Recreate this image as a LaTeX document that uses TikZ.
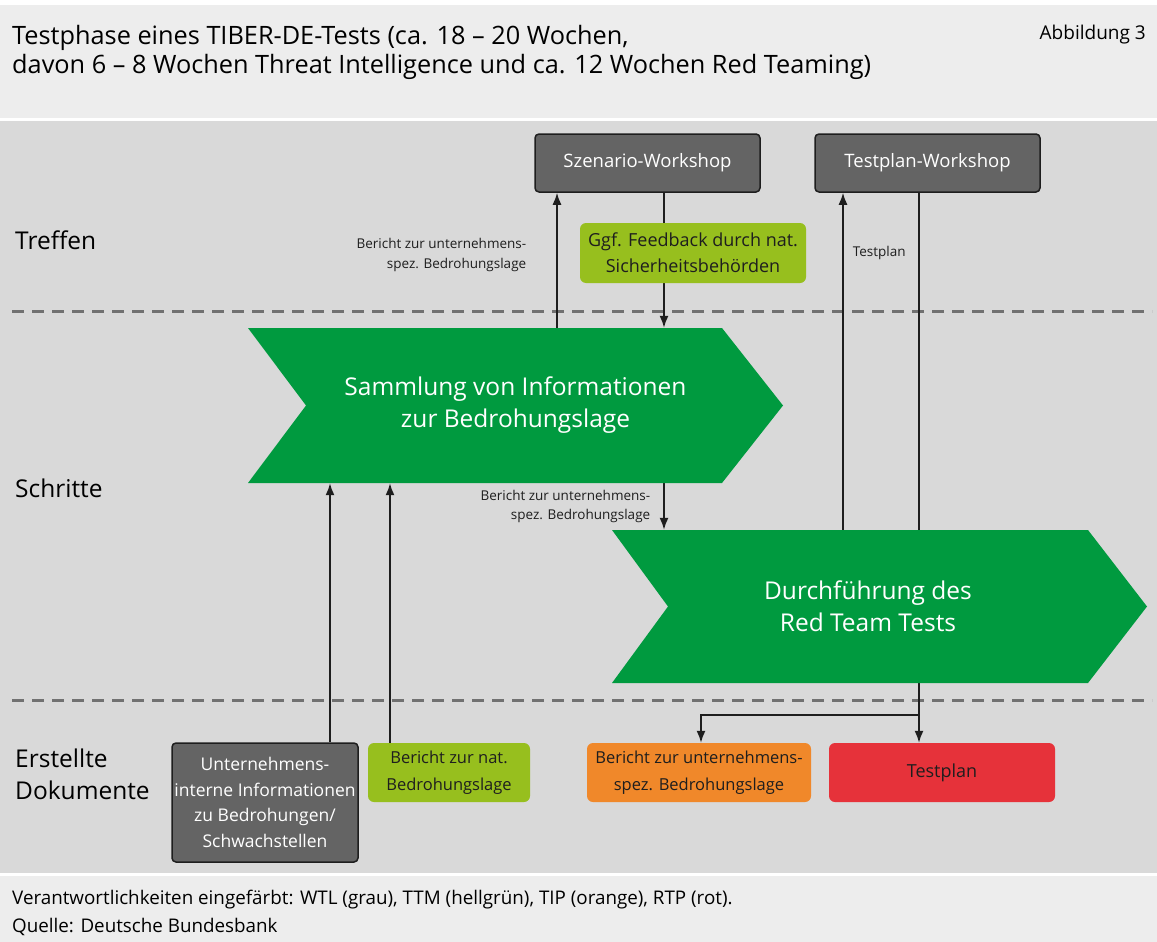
\documentclass[tikz,border=0pt]{standalone}
\usepackage{fontspec}
\setmainfont{Open Sans}
\usetikzlibrary{arrows.meta, positioning}

\definecolor{bandlight}{HTML}{EDEDED}
\definecolor{bandgray}{HTML}{D9D9D9}
\definecolor{dashgray}{HTML}{717171}
\definecolor{wtlgray}{HTML}{646464}
\definecolor{stepgreen}{HTML}{009A3F}
\definecolor{ttmgreen}{HTML}{97BF1E}
\definecolor{tiporange}{HTML}{F0882A}
\definecolor{rtpred}{HTML}{E6323A}
\definecolor{inkdark}{HTML}{1E1E1E}

\pgfdeclarelayer{background}
\pgfdeclarelayer{lines}
\pgfsetlayers{background,lines,main}

\tikzset{
  meeting/.style={draw=inkdark, line width=1.5pt, fill=wtlgray, rounded corners=4pt, text=white,
    font=\fontsize{18.5}{25}\selectfont, minimum width=225pt, minimum height=58pt, inner sep=0pt, align=center},
  doc/.style={rounded corners=6pt, text=inkdark, font=\fontsize{16.5}{27}\selectfont,
    minimum height=59pt, inner sep=0pt, align=center},
  steptext/.style={text=white, font=\fontsize{24.5}{32}\selectfont, align=center, inner sep=0pt},
  rowlabel/.style={anchor=west, font=\fontsize{24.5}{32}\selectfont, align=left, inner sep=0pt},
  note/.style={text=inkdark, font=\fontsize{13.5}{19.5}\selectfont, align=right, inner sep=0pt},
  plain/.style={inner sep=0pt, font=\fontsize{18.8}{27}\selectfont},
  arr/.style={draw=inkdark, line width=1.6pt, -{Latex[length=12pt,width=9pt]}},
  conn/.style={draw=inkdark, line width=1.6pt},
  sep/.style={draw=dashgray, line width=3pt, dash pattern=on 12pt off 8pt},
}

\begin{document}
\begin{tikzpicture}[x=1pt, y=-1pt]
\useasboundingbox (0,0) rectangle (1157,942);

% Bands
\begin{pgfonlayer}{background}
\fill[bandlight] (0,5) rectangle (1157,118);
\fill[bandgray] (0,121) rectangle (1157,873);
\fill[bandlight] (0,876) rectangle (1157,942);
\draw[sep] (12,311) -- (1152,311);
\draw[sep] (12,700) -- (1152,700);
\end{pgfonlayer}

% Header
\node[anchor=west, align=left, inner sep=0pt, font=\fontsize{25.3}{29}\selectfont] (title) at (12,52)
  {Testphase eines TIBER-DE-Tests (ca. 18 – 20 Wochen,\\davon 6 – 8 Wochen Threat Intelligence und ca. 12 Wochen Red Teaming)};
\node[plain, anchor=base east, font=\fontsize{19}{22}\selectfont] (fig) at (1146,40) {Abbildung 3};

% Row labels
\node[rowlabel] (treffen) at (15,240) {Treffen};
\node[rowlabel] (schritte) at (15,488) {Schritte};
\node[rowlabel] (dokumente) at (15,774) {Erstellte\\Dokumente};

% Meetings
\node[meeting] (sz) at (647.5,163) {Szenario-Workshop};
\node[meeting] (tw) at (927.5,163) {Testplan-Workshop};
\node[doc, fill=ttmgreen, minimum width=226pt, minimum height=60pt, font=\fontsize{18}{26}\selectfont] (fb) at (693,253)
  {Ggf. Feedback durch nat.\\Sicherheitsbehörden};

% Steps
\fill[stepgreen] (248,328) -- (722,328) -- (783,405.5) -- (722,483) -- (248,483) -- (306,405.5) -- cycle;
\node[steptext, minimum width=535pt, minimum height=155pt] (s1) at (515.5,405.5)
  {Sammlung von Informationen\\zur Bedrohungslage};
\fill[stepgreen] (612,530) -- (1088,530) -- (1147,606.5) -- (1088,683) -- (612,683) -- (668,606.5) -- cycle;
\node[steptext, minimum width=535pt, minimum height=153pt] (s2) at (868,606.5)
  {Durchführung des\\Red Team Tests};

% Documents
\node[meeting, minimum width=186pt, minimum height=119pt, font=\fontsize{17.5}{25.7}\selectfont] (ui) at (265,802.5)
  {Unternehmens-\\interne Informationen\\zu Bedrohungen/\\Schwachstellen};
\node[doc, fill=ttmgreen, minimum width=162pt] (nb) at (449,772.5) {Bericht zur nat.\\Bedrohungslage};
\node[doc, fill=tiporange, minimum width=224pt] (bt) at (699,772.5) {Bericht zur unternehmens-\\spez. Bedrohungslage};
\node[doc, fill=rtpred, minimum width=226pt, font=\fontsize{18}{26}\selectfont] (tp) at (942,772.5) {Testplan};

% Connectors
\begin{pgfonlayer}{lines}
\draw[arr] (557,0 |- s1.north) -- (557,0 |- sz.south)
  node[note, pos=0.54, left=30pt] {Bericht zur unternehmens-\\spez. Bedrohungslage};
\draw[arr] (664,0 |- sz.south) -- (664,0 |- s1.north);
\draw[arr] (664,0 |- s1.south) -- (664,0 |- s2.north)
  node[note, midway, left=13pt] {Bericht zur unternehmens-\\spez. Bedrohungslage};
\draw[arr] (843,0 |- s2.north) -- (843,0 |- tw.south)
  node[note, pos=0.82, right=9pt] {Testplan};
\draw[conn] (919,0 |- tw.south) -- (919,0 |- s2.north);
\coordinate (split) at (919,715);
\draw[arr] (919,0 |- s2.south) -- (919,0 |- tp.north);
\draw[arr] (split) -| (701,0 |- bt.north);
\draw[arr] (330,0 |- ui.north) -- (330,0 |- s1.south);
\draw[arr] (390,0 |- nb.north) -- (390,0 |- s1.south);
\end{pgfonlayer}

% Footer
\node[plain, anchor=base west] (resp) at (12,904)
  {Verantwortlichkeiten eingefärbt: WTL (grau), TTM (hellgrün), TIP (orange), RTP (rot).};
\node[plain, anchor=base west] (src) at (12,932) {Quelle: Deutsche Bundesbank};

\end{tikzpicture}
\end{document}
